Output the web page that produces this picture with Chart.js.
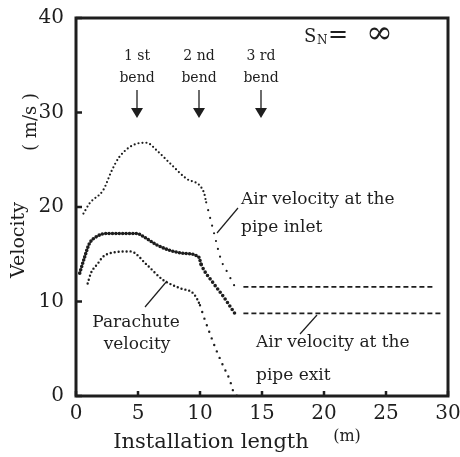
<!DOCTYPE html>
<html>
<head>
<meta charset="utf-8">
<script src="https://cdn.jsdelivr.net/npm/chart.js@4"></script>
<style>
html,body{margin:0;padding:0;background:#fff;}
canvas{display:block;}
</style>
</head>
<body>
<canvas id="c" width="460" height="457"></canvas>
<script>
// ---- data ----
const inletX = [0.6, 1.1, 2.2, 2.9, 3.5, 4.9, 5.7, 6.5, 7.6, 8.9, 10.3, 10.5, 11.1, 11.7, 12.2, 12.8];
const inletY = [19.3, 20.4, 21.8, 23.9, 25.3, 26.7, 26.8, 26.0, 24.6, 23.0, 21.6, 20.5, 17.4, 14.4, 13.1, 11.6];
const inletTailX = [13.5, 28.8];
const inletTailY = [11.55, 11.55];

const exitX = [0.3, 0.67, 1.07, 1.7, 2.5, 4.9, 5.4, 6.5, 7.6, 8.7, 9.9, 10.1, 11.1, 11.9, 12.8];
const exitY = [13.0, 14.6, 16.1, 16.9, 17.2, 17.2, 16.9, 16.0, 15.4, 15.1, 14.7, 13.9, 11.9, 10.5, 8.75];
const exitTailX = [13.5, 29.4];
const exitTailY = [8.75, 8.75];

const paraX = [0.94, 1.2, 1.75, 2.15, 2.7, 4.4, 5.7, 7.0, 8.4, 9.5, 10.0, 10.3, 10.8, 11.3, 11.9, 12.4, 12.7, 13.0];
const paraY = [11.9, 13.0, 14.0, 14.7, 15.1, 15.3, 13.9, 12.3, 11.4, 10.8, 9.6, 8.4, 6.6, 4.9, 3.1, 1.7, 0.45, 0.0];

const bendX = [5, 10, 15];
const bendLabels = [["1 st", "bend"], ["2 nd", "bend"], ["3 rd", "bend"]];
const xTicks = [0, 5, 10, 15, 20, 25, 30];
const yTicks = [0, 10, 20, 30, 40];

const pts = (xs, ys) => xs.map((x, i) => ({x: x, y: ys[i]}));
const INK = '#1e1e1e';
const SERIF = '"DejaVu Serif", "Liberation Serif", serif';

const annot = {
  id: 'annot',
  afterDraw(chart) {
    const c = chart.ctx, a = chart.chartArea;
    const xs = chart.scales.x, ys = chart.scales.y;
    c.save();
    c.strokeStyle = INK; c.fillStyle = INK;
    // inward ticks
    c.lineWidth = 2.5;
    xTicks.forEach(v => {
      const px = xs.getPixelForValue(v);
      c.beginPath(); c.moveTo(px, a.bottom); c.lineTo(px, a.bottom - 5); c.stroke();
    });
    yTicks.forEach(v => {
      const py = ys.getPixelForValue(v);
      c.beginPath(); c.moveTo(a.left, py); c.lineTo(a.left + 6, py); c.stroke();
    });
    // frame
    c.lineWidth = 3;
    c.strokeRect(a.left, a.top, a.right - a.left, a.bottom - a.top);

    // bend arrows
    c.lineWidth = 1.3;
    c.textAlign = 'center'; c.textBaseline = 'middle';
    bendX.forEach((v, i) => {
      const px = xs.getPixelForValue(v) - 1;
      const y0 = 90, y1 = 118;
      c.beginPath(); c.moveTo(px, y0); c.lineTo(px, y1 - 8); c.stroke();
      c.beginPath(); c.moveTo(px - 6, y1 - 10); c.lineTo(px + 6, y1 - 10); c.lineTo(px, y1); c.closePath(); c.fill();
      c.font = '14px ' + SERIF;
      c.fillText(bendLabels[i][0], px, 56);
      c.fillText(bendLabels[i][1], px, 78);
    });

    // S_N = infinity
    c.textAlign = 'left';
    c.font = '18px ' + SERIF;
    c.fillText('S', 304, 37);
    c.font = '12px ' + SERIF;
    c.fillText('N', 317, 41);
    c.font = '24px ' + SERIF;
    c.fillText('=', 328, 36);
    c.font = '32px ' + SERIF;
    c.fillText('\u221E', 366, 35);

    // series labels
    c.font = '17px ' + SERIF;
    c.textAlign = 'left';
    c.fillText('Air velocity at the', 241, 200);
    c.fillText('pipe inlet', 241, 228);
    c.fillText('Air velocity at the', 256, 343);
    c.fillText('pipe exit', 256, 376);
    c.textAlign = 'center';
    c.fillText('Parachute', 136, 323);
    c.fillText('velocity', 137, 345);

    // leader lines
    c.lineWidth = 1.2;
    c.beginPath(); c.moveTo(238, 208); c.lineTo(217, 233); c.stroke();
    c.beginPath(); c.moveTo(145, 307); c.lineTo(167, 281); c.stroke();
    c.beginPath(); c.moveTo(300, 334); c.lineTo(317, 315); c.stroke();

    // axis titles
    c.textAlign = 'center';
    c.font = '21px ' + SERIF;
    c.fillText('Installation length', 211, 443);
    c.font = '16px ' + SERIF;
    c.fillText('(m)', 347, 437);
    c.save();
    c.translate(19, 240); c.rotate(-Math.PI / 2);
    c.font = '19px ' + SERIF;
    c.fillText('Velocity', 0, 0);
    c.restore();
    c.save();
    c.translate(31, 122); c.rotate(-Math.PI / 2);
    c.font = '18px ' + SERIF;
    c.fillText('( m/s )', 0, 0);
    c.restore();
    c.restore();
  }
};

const bg = {
  id: 'bg',
  beforeDraw(chart) {
    const c = chart.ctx;
    c.save(); c.fillStyle = '#fff'; c.fillRect(0, 0, chart.width, chart.height); c.restore();
  }
};

const dotSeg = (dense, sparse, cut) => ({
  borderDash: ctx => ctx.p0.parsed.x >= cut ? sparse : dense
});

new Chart(document.getElementById('c'), {
  type: 'line',
  data: {
    datasets: [
      { label: 'Air velocity at the pipe inlet', data: pts(inletX, inletY),
        borderColor: INK, borderWidth: 2.2, borderCapStyle: 'round', borderDash: [0, 4],
        segment: dotSeg([0, 4], [0, 8], 10.4), cubicInterpolationMode: 'monotone', pointRadius: 0, fill: false },
      { label: 'inlet tail', data: pts(inletTailX, inletTailY),
        borderColor: INK, borderWidth: 1.8, borderDash: [5, 3], pointRadius: 0, fill: false },
      { label: 'Air velocity at the pipe exit', data: pts(exitX, exitY),
        borderColor: INK, borderWidth: 3.6, borderCapStyle: 'round', borderDash: [0, 3.4],
        segment: dotSeg([0, 3.4], [0, 4.2], 10.0), cubicInterpolationMode: 'monotone', pointRadius: 0, fill: false },
      { label: 'exit tail', data: pts(exitTailX, exitTailY),
        borderColor: INK, borderWidth: 1.8, borderDash: [5, 3], pointRadius: 0, fill: false },
      { label: 'Parachute velocity', data: pts(paraX, paraY),
        borderColor: INK, borderWidth: 2.4, borderCapStyle: 'round', borderDash: [0, 4],
        segment: dotSeg([0, 4], [0, 7], 9.6), cubicInterpolationMode: 'monotone', pointRadius: 0, fill: false }
    ]
  },
  options: {
    responsive: false,
    animation: false,
    devicePixelRatio: 1,
    layout: { padding: { left: 0, top: 18, right: 12, bottom: 0 } },
    plugins: { legend: { display: false }, tooltip: { enabled: false } },
    scales: {
      x: {
        type: 'linear', min: 0, max: 30,
        afterBuildTicks: s => { s.ticks = xTicks.map(v => ({value: v})); },
        afterFit: s => { s.height = 61; s.paddingLeft = 0; s.paddingRight = 0; },
        grid: { display: false, drawTicks: false },
        border: { display: false },
        ticks: { color: INK, font: { family: SERIF, size: 20 }, padding: 6, maxRotation: 0 }
      },
      y: {
        type: 'linear', min: 0, max: 40,
        afterBuildTicks: s => { s.ticks = yTicks.map(v => ({value: v})); },
        afterFit: s => { s.width = 76; s.paddingTop = 0; s.paddingBottom = 0; },
        grid: { display: false, drawTicks: false },
        border: { display: false },
        ticks: { color: INK, font: { family: SERIF, size: 20 }, padding: 12 }
      }
    }
  },
  plugins: [bg, annot]
});
</script>
</body>
</html>
